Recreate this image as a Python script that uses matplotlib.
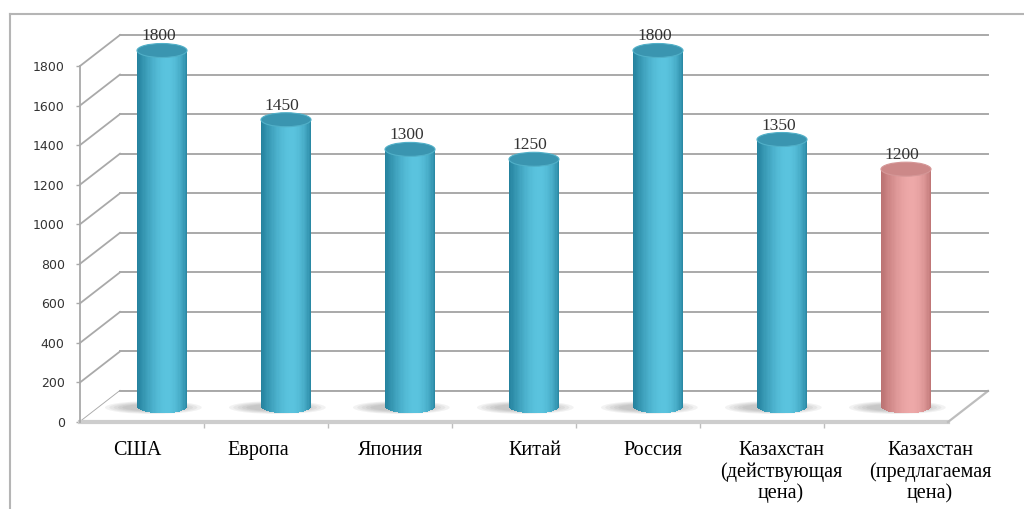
import numpy as np
import matplotlib.pyplot as plt
from matplotlib.patches import Rectangle, Ellipse, Polygon
from matplotlib.lines import Line2D
from matplotlib.colors import to_rgb
import matplotlib.transforms as mtransforms

# данные
categories = ["США", "Европа", "Япония", "Китай", "Россия",
              "Казахстан\n(действующая\nцена)",
              "Казахстан\n(предлагаемая\nцена)"]
values = [1800, 1450, 1300, 1250, 1800, 1350, 1200]
yticks = [0, 200, 400, 600, 800, 1000, 1200, 1400, 1600, 1800]
highlight = [False, False, False, False, False, False, True]

# сдвиг подписей категорий в пикселях (как в исходном документе)
label_nudge = [-5, -8, 1, 21, 15, 19, 44]

GRID = '#a9a9a9'
TEAL = ('#23809c', '#5ac3de', '#3a95b0')   # тёмный край, светлая середина, крышка
PINK = ('#b97070', '#eda8a8', '#cc8888')

fig = plt.figure(figsize=(10.24, 5.09), dpi=100)
ax = fig.add_axes([80 / 1024, 87 / 509, 868 / 1024, 356 / 509])
ax.set_xlim(-0.5, len(values) - 0.5)
ax.set_ylim(0, yticks[-1])

# глубина "3D" в единицах данных
pos = ax.get_position()
px_x = pos.width * fig.get_figwidth() * fig.dpi / (len(values))
px_y = pos.height * fig.get_figheight() * fig.dpi / yticks[-1]
DX = 40 / px_x
DY = 31 / px_y
x0, x1 = -0.5, len(values) - 0.5

# задняя стенка и боковые диагонали
for v in yticks:
    ax.plot([x0 + DX, x1 + DX], [v + DY, v + DY], color=GRID, lw=1.4,
            clip_on=False, zorder=1)
    ax.plot([x0, x0 + DX], [v, v + DY], color=GRID, lw=1.3,
            clip_on=False, zorder=1)

# пол
floor = Polygon([(x0, 0), (x1, 0), (x1 + DX, DY), (x0 + DX, DY)],
                closed=True, facecolor='white', edgecolor='none',
                clip_on=False, zorder=1.5)
ax.add_patch(floor)
ax.plot([x0, x1], [0, 0], color='#cdcdcd', lw=3, clip_on=False, zorder=2)
ax.plot([x1, x1 + DX], [0, DY], color='#bdbdbd', lw=1.6, clip_on=False,
        zorder=2)
ax.plot([x0 + DX, x1 + DX], [DY, DY], color=GRID, lw=1.4, clip_on=False,
        zorder=2)

# цилиндры
hw = 25 / px_x
ry = 7 / px_y
nstrip = 40
for i, v in enumerate(values):
    dark, light, top = PINK if highlight[i] else TEAL
    dark, light = np.array(to_rgb(dark)), np.array(to_rgb(light))
    cx = i + DX / 2
    cy = DY / 2

    # тень на полу
    for k in range(5):
        w = 0.78 - k * 0.07
        h = (13 - k * 1.5) / px_y
        ax.add_patch(Ellipse((cx - 0.07, cy - 1 / px_y), w, h,
                             facecolor='#505050', alpha=0.07,
                             edgecolor='none', clip_on=False, zorder=2.5))

    edges = np.linspace(-1, 1, nstrip + 1)
    for a, b in zip(edges[:-1], edges[1:]):
        s = (a + b) / 2
        t = (s + 1) / 2
        f = np.sin(np.pi * t ** 1.35) ** 0.7
        col = dark + (light - dark) * f
        yb = cy - ry * np.sqrt(max(0.0, 1 - s * s))
        ax.add_patch(Rectangle((cx + a * hw, yb), (b - a) * hw * 1.02,
                               v + cy - yb, facecolor=col, edgecolor='none',
                               clip_on=False, zorder=3))
    ax.add_patch(Ellipse((cx, v + cy), 2 * hw, 2 * ry, facecolor=top,
                         edgecolor=light * 0.9, lw=0.8, clip_on=False,
                         zorder=4))
    ax.text(cx - 0.03, v + cy + ry + 3 / px_y, str(v), ha='center',
            va='baseline', fontsize=12.5, family='Liberation Serif',
            color='#333333', zorder=5)

# оси
for side in ('top', 'right', 'bottom'):
    ax.spines[side].set_visible(False)
ax.spines['left'].set_color(GRID)
ax.spines['left'].set_linewidth(1.3)
ax.set_facecolor('none')
ax.set_yticks(yticks)
ax.tick_params(axis='y', length=3, width=1, color=GRID, pad=8,
               labelsize=9, labelcolor='#333333')
ax.set_xticks(range(len(categories)))
ax.set_xticklabels(categories, fontsize=14.5, family='Liberation Serif',
                   linespacing=1.12, color='black')
ax.set_xticks([i + 0.5 for i in range(len(categories) - 1)], minor=True)
ax.tick_params(axis='x', which='major', length=0, pad=14)
ax.tick_params(axis='x', which='minor', length=4, width=1, color='#bdbdbd')
for lab, dx in zip(ax.get_xticklabels(), label_nudge):
    shift = mtransforms.ScaledTranslation(dx / 100, 0, fig.dpi_scale_trans)
    lab.set_transform(lab.get_transform() + shift)

# рамка вокруг рисунка
fig.add_artist(Line2D([10 / 1024, 1], [1 - 14 / 509, 1 - 14 / 509],
                      color='#b5b5b5', lw=1.5, transform=fig.transFigure))
fig.add_artist(Line2D([10 / 1024, 10 / 1024], [0, 1 - 14 / 509],
                      color='#b5b5b5', lw=1.5, transform=fig.transFigure))

fig.savefig('out.png', dpi=100)
